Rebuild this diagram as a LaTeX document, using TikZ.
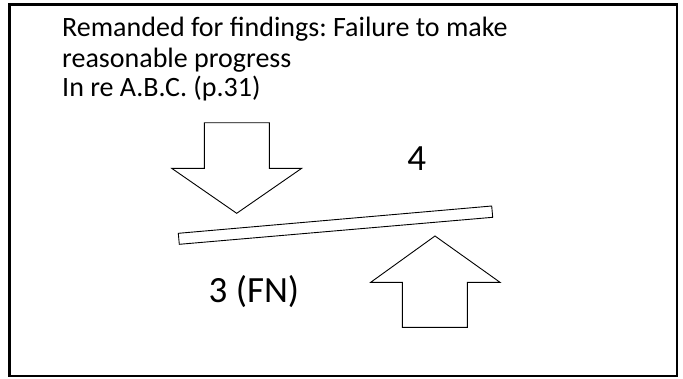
\documentclass[tikz,border=0pt]{standalone}
\usepackage{fontspec}
\setmainfont{Carlito}
\frenchspacing
\begin{document}
\begin{tikzpicture}[x=1bp,y=-1bp,
  outlineshape/.style={draw=black,fill=white,line width=0.9bp,line join=miter},
  titletext/.style={anchor=base west,inner sep=0pt,font=\fontsize{28bp}{32bp}\selectfont},
  bigtext/.style={anchor=base west,inner sep=0pt,font=\fontsize{37bp}{44bp}\selectfont}]
\useasboundingbox (0,0) rectangle (683,378);
\draw[line width=2.6bp] (9.5,4.3) rectangle (677,376);
\node[titletext] (t1) at (62,36.5) {Remanded for findings: Failure to make};
\node[titletext] (t2) at (62,67) {reasonable progress};
\node[titletext] (t3) at (62,96.5) {In re A.B.C. (p.31)};
% down arrow
\draw[outlineshape] (204.3,122.7) -- (269.3,122.7) -- (269.3,168.3) -- (301.7,168.3) -- (236.7,213.3) -- (171.7,168.3) -- (204.3,168.3) -- cycle;
% bar
\draw[outlineshape] (178.3,233.3) -- (491.7,206) -- (492.7,217.3) -- (179.3,244.3) -- cycle;
% up arrow
\draw[outlineshape] (402.3,327.3) -- (467.3,327.3) -- (467.3,282.3) -- (500,282.3) -- (435,236) -- (370.7,282.3) -- (402.3,282.3) -- cycle;
\node[bigtext,anchor=base] (four) at (416.7,170) {4};
\node[bigtext] (three) at (208.5,302.5) {3 (FN)};
\end{tikzpicture}
\end{document}
